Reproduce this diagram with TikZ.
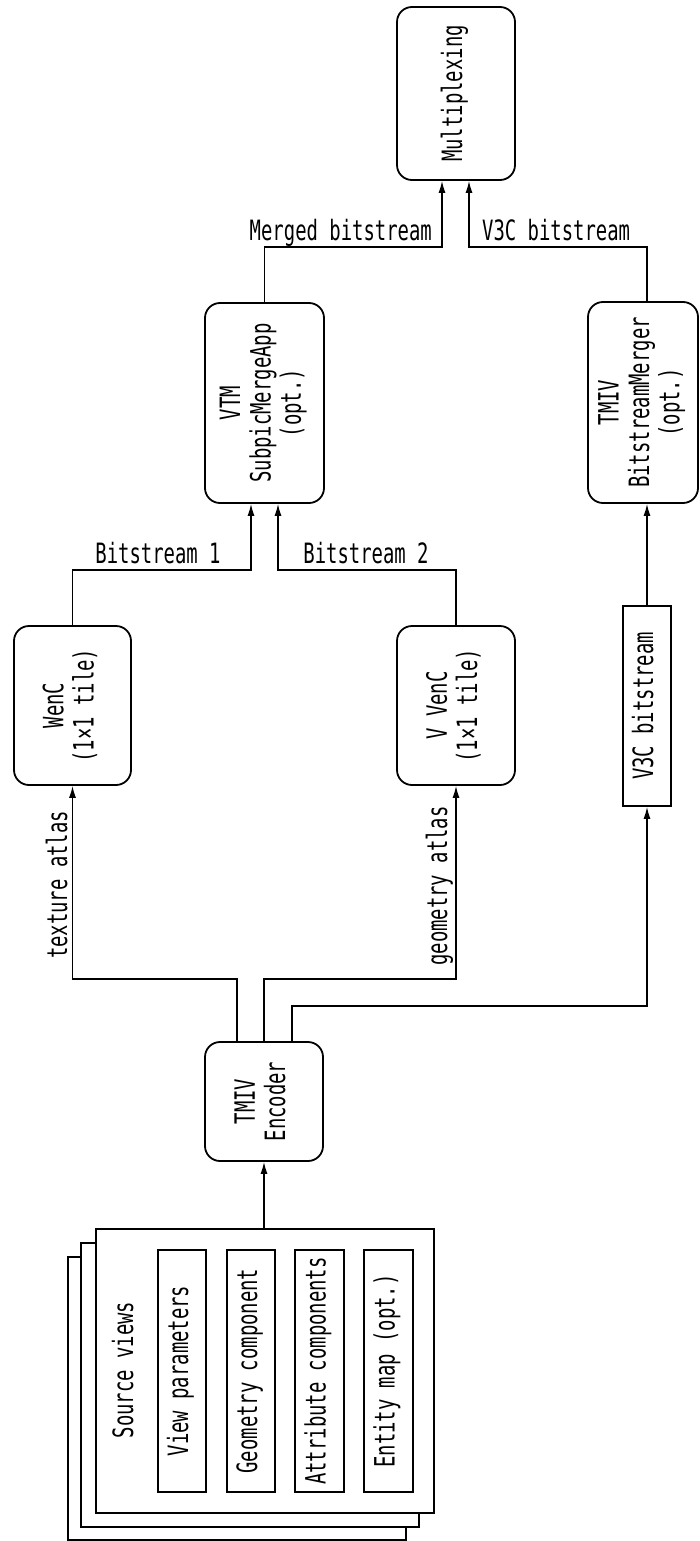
\documentclass[tikz,border=0pt]{standalone}
\usepackage{fontspec}
\newfontfamily\dfont{DejaVu Sans Mono}[FakeStretch=0.675]
\usetikzlibrary{arrows.meta}
\newcommand{\rtext}[1]{\rotatebox{90}{\begin{tabular}{@{}c@{}}#1\end{tabular}}}
\begin{document}
\begin{tikzpicture}[x=1pt,y=-1pt,
  every node/.style={font=\dfont\fontsize{28}{30}\selectfont, inner sep=0pt},
  rbox/.style={draw, line width=1.8pt, rounded corners=15pt},
  sqbox/.style={draw, line width=1.8pt},
  stackbox/.style={draw, line width=1.8pt, fill=white, minimum width=338pt, minimum height=284pt},
  conn/.style={line width=1.3pt},
  arr/.style={conn, -{Latex[length=12pt,width=7pt]}}
]
\useasboundingbox (0,0) rectangle (699,1541);

% boxes
\node[rbox, minimum width=118pt, minimum height=173pt] (mux) at (456,93.5) {\rtext{Multiplexing}};
\node[rbox, minimum width=119pt, minimum height=200pt] (vtm) at (264.5,403) {\rtext{VTM\\SubpicMergeApp\\(opt.)}};
\node[rbox, minimum width=110pt, minimum height=201pt] (tbm) at (643,402.5) {\rtext{TMIV\\BitstreamMerger\\(opt.)}};
\node[rbox, minimum width=117pt, minimum height=159pt] (wenc) at (72.5,705.5) {\rtext{WenC\\(1×1 tile)}};
\node[rbox, minimum width=118pt, minimum height=159pt] (vvenc) at (456,705.5) {\rtext{V VenC\\(1×1 tile)}};
\node[sqbox, minimum width=48pt, minimum height=200pt] (v3c) at (647,706) {\rtext{V3C bitstream}};
\node[rbox, minimum width=118pt, minimum height=119pt] (enc) at (264,1101.5) {\rtext{TMIV\\Encoder}};

% source views stack
\node[stackbox, minimum height=283pt] (sv3) at (237,1398.5) {};
\node[stackbox] (sv2) at (250,1385) {};
\node[stackbox, line width=2.5pt] (sv) at (265,1371) {};
\node (svt) at (127,1370) {\rtext{Source views}};
\node[sqbox, minimum width=48pt, minimum height=242pt] (vp) at (182,1371) {\rtext{View parameters}};
\node[sqbox, minimum width=48pt, minimum height=242pt] (gc) at (251,1371) {\rtext{Geometry component}};
\node[sqbox, minimum width=49pt, minimum height=242pt] (ac) at (319.5,1371) {\rtext{Attribute components}};
\node[sqbox, minimum width=49pt, minimum height=242pt] (em) at (388.5,1371) {\rtext{Entity map (opt.)}};

% connectors
\draw[arr] (enc.south |- sv.north) -- (enc.south);
\draw[arr] ([xshift=-27pt]enc.north) -- ++(0,-62) -| (wenc.south);
\draw[arr] (enc.north) -- ++(0,-62) -| (vvenc.south);
\draw[arr] ([xshift=28pt]enc.north) -- ++(0,-35) -| (v3c.south);
\draw[arr] (wenc.north) -- ++(0,-55) -| ([xshift=-13.5pt]vtm.south);
\draw[arr] (vvenc.north) -- ++(0,-55) -| ([xshift=13.5pt]vtm.south);
\draw[arr] (v3c.north) -- (v3c.north |- tbm.south);
\draw[arr] (vtm.north) -- ++(0,-55) -| ([xshift=-14pt]mux.south);
\draw[arr] (tbm.north -| v3c) -- ++(0,-54) -| ([xshift=13pt]mux.south);

% labels
\node[anchor=base east] (lmerged) at (432,240) {Merged bitstream};
\node[anchor=base west] (lv3c) at (482,240) {V3C bitstream};
\node[anchor=base] (lb1) at (158,563) {Bitstream 1};
\node[anchor=base] (lb2) at (366,563) {Bitstream 2};
\node[rotate=90, anchor=base] (ltex) at (67,885) {texture atlas};
\node[rotate=90, anchor=base] (lgeo) at (447,886) {geometry atlas};
\end{tikzpicture}
\end{document}
